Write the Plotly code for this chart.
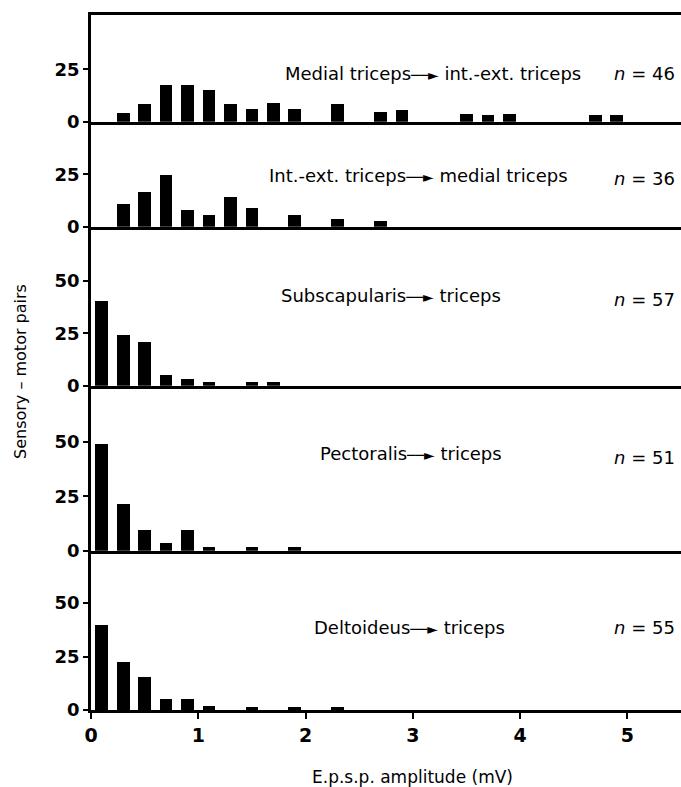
import plotly.graph_objects as go

# ---- data (percent of sensory-motor pairs per 0.2 mV bin) ----
x_tick_vals = [0, 1, 2, 3, 4, 5]
y_ticks_small = [0, 25]
y_ticks_large = [0, 25, 50]

panel_titles = [
    "Medial triceps",
    "Int.-ext. triceps",
    "Subscapularis",
    "Pectoralis",
    "Deltoideus",
]
panel_targets = [
    "int.-ext. triceps",
    "medial triceps",
    "triceps",
    "triceps",
    "triceps",
]
n_values = [46, 36, 57, 51, 55]

p1_x = [0.3, 0.5, 0.7, 0.9, 1.1, 1.3, 1.5, 1.7, 1.9, 2.3, 2.7, 2.9, 3.5, 3.7, 3.9, 4.7, 4.9]
p1_y = [4.3, 8.7, 17.5, 17.4, 15.2, 8.7, 6.3, 9.0, 6.0, 8.7, 4.8, 5.4, 3.6, 3.3, 3.6, 3.3, 3.0]
p2_x = [0.3, 0.5, 0.7, 0.9, 1.1, 1.3, 1.5, 1.9, 2.3, 2.7]
p2_y = [11.1, 16.7, 25.0, 8.3, 5.6, 14.2, 9.0, 5.6, 3.6, 2.8]
p3_x = [0.1, 0.3, 0.5, 0.7, 0.9, 1.1, 1.5, 1.7]
p3_y = [40.4, 24.6, 21.1, 5.3, 3.5, 1.8, 1.8, 1.8]
p4_x = [0.1, 0.3, 0.5, 0.7, 0.9, 1.1, 1.5, 1.9]
p4_y = [49.0, 21.6, 9.8, 3.9, 9.8, 2.0, 2.0, 2.0]
p5_x = [0.1, 0.3, 0.5, 0.7, 0.9, 1.1, 1.5, 1.9, 2.3]
p5_y = [40.0, 22.4, 15.4, 5.5, 5.5, 1.8, 1.6, 1.6, 1.6]

series_x = [p1_x, p2_x, p3_x, p4_x, p5_x]
series_y = [p1_y, p2_y, p3_y, p4_y, p5_y]

# ---- layout geometry ----
W, H = 681, 787
M_L, M_R, M_T, M_B = 91, 0, 15, 77
PH = H - M_T - M_B
bottom_px = H - M_B


def py(ypix):
    return (bottom_px - ypix) / PH


def px(xpix):
    return (xpix - M_L) / (W - M_L - M_R)


panel_edges = [M_T, 121.7, 226.7, 385.7, 550.7, bottom_px]
y_ranges = [51, 50.2, 76, 75.7, 74.5]
y_tickvals = [y_ticks_small, y_ticks_small, y_ticks_large, y_ticks_large, y_ticks_large]
title_centers = [433, 418.5, 391, 410.5, 409.5]
title_ys = [73, 175, 296, 453, 627]
n_ys = [73, 178, 299, 457, 627]

FONT = "DejaVu Sans"

fig = go.Figure()
layout = dict(
    width=W, height=H,
    margin=dict(l=M_L, r=M_R, t=M_T, b=M_B),
    plot_bgcolor="white", paper_bgcolor="white",
    showlegend=False, bargap=0,
    font=dict(family=FONT, color="black"),
)

annotations = []
for i in range(5):
    k = "" if i == 0 else str(i + 1)
    fig.add_trace(go.Bar(
        x=series_x[i], y=series_y[i], width=0.118,
        marker=dict(color="black", line=dict(width=0)),
        xaxis="x" + k, yaxis="y" + k, hoverinfo="skip",
    ))
    top = panel_edges[i]
    bot = panel_edges[i + 1]
    last = (i == 4)
    xa = dict(
        domain=[0, 1], anchor="y" + k, range=[0, 5.5],
        showline=True, linecolor="black", linewidth=2.5,
        showgrid=False, zeroline=False,
        showticklabels=last, ticks="outside" if last else "",
        tickvals=x_tick_vals, ticklen=6, tickwidth=2.2, tickcolor="black",
        tickfont=dict(size=19, family=FONT, weight="bold"),
    )
    if i == 0:
        xa["mirror"] = True
    else:
        xa["matches"] = "x"
    ya = dict(
        domain=[py(bot), py(top)], anchor="x" + k, range=[0, y_ranges[i]],
        showline=True, linecolor="black", linewidth=2.5,
        showgrid=False, zeroline=False,
        ticks="outside", ticklen=5, tickwidth=2.2, tickcolor="black",
        tickvals=y_tickvals[i],
        tickfont=dict(size=18, family=FONT, weight="bold"),
    )
    layout["xaxis" + k] = xa
    layout["yaxis" + k] = ya

    annotations.append(dict(
        xref="paper", yref="paper", x=px(title_centers[i]), y=py(title_ys[i]),
        xanchor="center", yanchor="middle", showarrow=False,
        text=(panel_titles[i]
              + "<span style='font-size:14px'>──►</span> "
              + panel_targets[i]),
        font=dict(size=18, family=FONT, color="black"),
    ))
    annotations.append(dict(
        xref="paper", yref="paper", x=px(677), y=py(n_ys[i]),
        xanchor="right", yanchor="middle", showarrow=False,
        text="<i>n</i> = %d" % n_values[i],
        font=dict(size=18, family=FONT, color="black"),
    ))

annotations.append(dict(
    xref="paper", yref="paper", x=px(20), y=py(372),
    xanchor="center", yanchor="middle", showarrow=False, textangle=-90,
    text="Sensory – motor pairs",
    font=dict(size=16, family=FONT, color="black"),
))
annotations.append(dict(
    xref="paper", yref="paper", x=px(412), y=py(777),
    xanchor="center", yanchor="middle", showarrow=False,
    text="E.p.s.p. amplitude (mV)",
    font=dict(size=17, family=FONT, color="black"),
))
layout["annotations"] = annotations
fig.update_layout(**layout)
fig.write_html(
    "out.html",
    config={"displayModeBar": False},
    post_script="document.body.style.margin='0';document.body.style.overflow='hidden';",
)
